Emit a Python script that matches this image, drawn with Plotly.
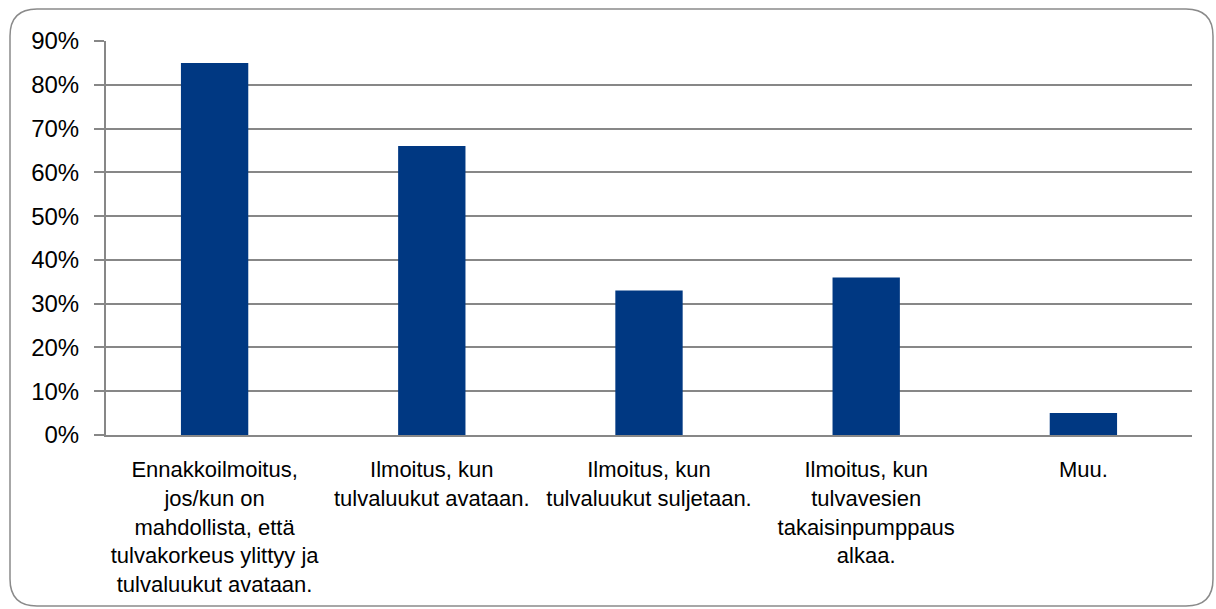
import plotly.graph_objects as go

categories = [
    "Ennakkoilmoitus,<br>jos/kun on<br>mahdollista, että<br>tulvakorkeus ylittyy ja<br>tulvaluukut avataan.",
    "Ilmoitus, kun<br>tulvaluukut avataan.",
    "Ilmoitus, kun<br>tulvaluukut suljetaan.",
    "Ilmoitus, kun<br>tulvavesien<br>takaisinpumppaus<br>alkaa.",
    "Muu.",
]
values = [0.85, 0.66, 0.33, 0.36, 0.05]
tick_vals = [0, 0.1, 0.2, 0.3, 0.4, 0.5, 0.6, 0.7, 0.8, 0.9]
tick_text = ["0%", "10%", "20%", "30%", "40%", "50%", "60%", "70%", "80%", "90%"]

W, H = 1216, 609
L, R, T, B = 106, 1192, 41, 435

fig = go.Figure(
    go.Bar(x=categories, y=values, marker=dict(color="#003882", line=dict(width=0)))
)

# rounded border, pixel -> paper conversion
def px(x):
    return (x - L) / (R - L)

def py(y):
    return (B - y) / (B - T)

x0, y0, x1, y1, r = 10, 9, 1213, 606, 27
path = (
    f"M {px(x0 + r)} {py(y0)} L {px(x1 - r)} {py(y0)} "
    f"Q {px(x1)} {py(y0)} {px(x1)} {py(y0 + r)} "
    f"L {px(x1)} {py(y1 - r)} Q {px(x1)} {py(y1)} {px(x1 - r)} {py(y1)} "
    f"L {px(x0 + r)} {py(y1)} Q {px(x0)} {py(y1)} {px(x0)} {py(y1 - r)} "
    f"L {px(x0)} {py(y0 + r)} Q {px(x0)} {py(y0)} {px(x0 + r)} {py(y0)} Z"
)

fig.update_layout(
    width=W,
    height=H,
    margin=dict(l=L, r=W - R, t=T, b=H - B, pad=0),
    paper_bgcolor="white",
    plot_bgcolor="white",
    bargap=0.69,
    showlegend=False,
    font=dict(family="Liberation Sans, Arial, sans-serif", color="#000000"),
    shapes=[
        dict(
            type="path",
            path=path,
            xref="paper",
            yref="paper",
            line=dict(color="#8a8a8a", width=1.5),
            fillcolor="rgba(0,0,0,0)",
            layer="below",
        )
    ],
)

fig.update_yaxes(
    range=[0, 0.9],
    tickvals=tick_vals,
    ticktext=tick_text,
    tickfont=dict(size=24),
    showgrid=True,
    gridcolor="#878787",
    gridwidth=1.5,
    showline=True,
    linecolor="#878787",
    linewidth=2,
    ticks="outside",
    ticklen=10,
    tickcolor="#878787",
    tickwidth=1.5,
    ticklabelstandoff=10,
    zeroline=False,
)
fig.update_xaxes(
    tickfont=dict(size=22),
    showline=True,
    linecolor="#878787",
    linewidth=2,
    ticks="",
    tickangle=0,
    ticklabelstandoff=14,
)

fig.write_html(
    "out.html",
    config={"displayModeBar": False},
    post_script="document.body.style.margin='0';document.body.style.overflow='hidden';",
)
